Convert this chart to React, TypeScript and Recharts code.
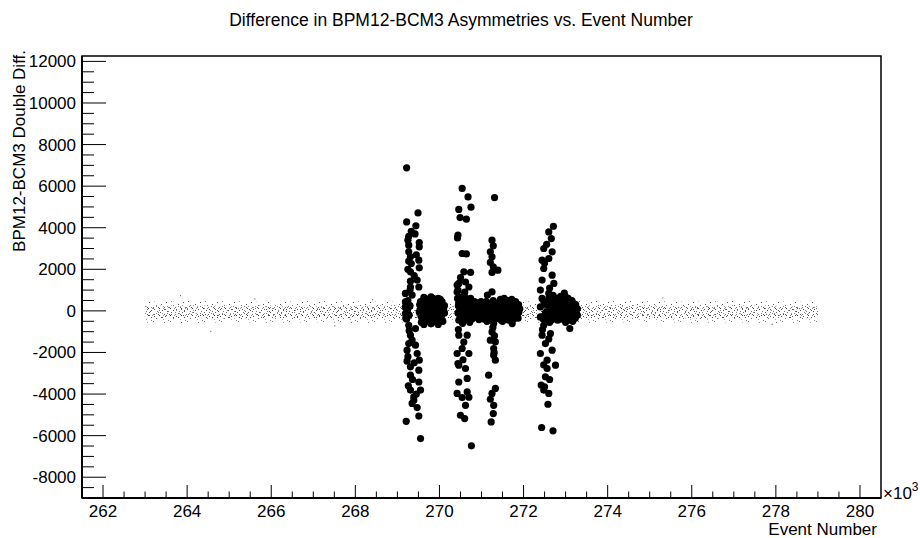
import React from 'react';
import { ComposedChart, Area, Scatter, XAxis, YAxis, ReferenceArea } from 'recharts';

const FONT = '"Liberation Sans", Arial, Helvetica, sans-serif';

// x in units of 10^3 events
const bandX = [263.0, 264, 265, 266, 267, 268, 269, 270, 271, 272, 273, 274, 275, 276, 277, 278, 279.0];
const bandHi = [440, 480, 460, 430, 470, 450, 440, 460, 430, 450, 470, 490, 460, 440, 480, 450, 430];
const bandLo = [-560, -590, -540, -570, -550, -580, -560, -540, -570, -550, -580, -560, -540, -570, -550, -580, -560];
const coreHi = [240, 270, 230, 260, 220, 250, 270, 230, 260, 250, 230, 280, 260, 230, 260, 250, 230];
const coreLo = [-350, -340, -370, -330, -360, -340, -350, -370, -340, -350, -330, -360, -340, -370, -350, -330, -350];

// few stray small markers outside the band
const strays = [[263.83, 755], [264.55, -960], [265.6, 600], [267.5, -700], [275.3, 650], [277.9, -620], [268.4, 560]];

// big markers, one list per run
const run1 = [
  [269.22, 6880], [269.49, 4710], [269.22, 4280], [269.44, 4090], [269.33, 3830], [269.27, 3590], [269.42, 3700],
  [269.52, 3290], [269.27, 3160], [269.52, 3080], [269.25, 3400], [269.27, 2840], [269.45, 2700], [269.31, 2600],
  [269.51, 2440], [269.27, 2390], [269.33, 2280], [269.52, 2070], [269.25, 2000], [269.31, 1880], [269.4, 1700],
  [269.47, 1480], [269.31, 1430], [269.51, 1150], [269.31, 1150], [269.3, 1000], [269.19, 840], [269.35, 760],
  [269.25, 500], [269.19, 430], [269.3, 250], [269.19, 190], [269.25, 100], [269.22, -20], [269.28, -200],
  [269.19, -130], [269.22, -300], [269.2, -350], [269.22, -400], [269.27, -690], [269.43, -850], [269.28, -950],
  [269.31, -1170], [269.35, -1400], [269.27, -1570], [269.43, -1650], [269.23, -1890], [269.47, -2050],
  [269.25, -2200], [269.52, -2370], [269.23, -2420], [269.4, -2500], [269.31, -2690], [269.51, -2850],
  [269.31, -3090], [269.36, -3300], [269.51, -3420], [269.26, -3600], [269.31, -3810], [269.55, -3810],
  [269.45, -4000], [269.39, -4140], [269.39, -4300], [269.35, -4450], [269.47, -4650], [269.51, -5060],
  [269.21, -5310], [269.55, -6140],
];
const blob1 = [
  [269.55, 450], [269.55, 100], [269.56, -250], [269.57, -550], [269.52, -50], [269.53, 300],
  [269.59, 280], [269.6, -100], [269.6, -420],
  [269.63, 650], [269.64, 300], [269.62, -50], [269.65, -400], [269.63, -650],
  [269.68, 420], [269.67, 50], [269.68, -300],
  [269.72, 550], [269.71, 200], [269.73, -150], [269.7, -500],
  [269.76, 480], [269.76, 100], [269.77, -330],
  [269.8, 680], [269.81, 350], [269.79, 0], [269.82, -300], [269.8, -620],
  [269.85, 600], [269.85, 200], [269.86, -150], [269.85, -450],
  [269.89, 500], [269.88, 150], [269.9, -200], [269.89, -520],
  [269.93, 380], [269.94, 0], [269.93, -350],
  [269.97, 600], [269.98, 280], [269.96, -80], [269.99, -420], [269.97, -650],
  [270.02, 550], [270.02, 200], [270.01, -150], [270.03, -450],
  [270.06, 450], [270.07, 100], [270.05, -250], [270.08, -500],
  [270.12, 250], [270.12, -100], [270.1, 50],
];
const run2 = [
  [270.54, 5890], [270.68, 5480], [270.75, 4990], [270.46, 4880], [270.49, 4490], [270.64, 4410], [270.44, 3640],
  [270.43, 3510], [270.54, 2760], [270.64, 2740], [270.58, 1880], [270.74, 1850], [270.5, 1600], [270.46, 1320],
  [270.62, 1390], [270.42, 1240], [270.7, 1150], [270.44, 1000], [270.42, 910], [270.6, 900], [270.54, 670],
  [270.74, 600], [270.46, 360], [270.45, -900], [270.46, -1170], [270.66, -1170], [270.58, -1500],
  [270.54, -1810], [270.42, -2050], [270.7, -2050], [270.56, -2350], [270.44, -2530], [270.46, -2610],
  [270.62, -2770], [270.66, -3250], [270.46, -3420], [270.66, -3900], [270.42, -3970], [270.7, -4150],
  [270.54, -4170], [270.62, -4540], [270.5, -5020], [270.6, -5180], [270.76, -6490],
];
const blob2 = [
  [270.43, 600], [270.45, 250], [270.44, -100], [270.46, -450],
  [270.48, 400], [270.48, 0], [270.49, -300],
  [270.52, 450], [270.53, 100], [270.51, -250], [270.55, -600],
  [270.57, 550], [270.57, 200], [270.56, -150], [270.58, -450],
  [270.61, 650], [270.62, 300], [270.6, -50], [270.63, -400],
  [270.66, 450], [270.66, 100], [270.67, -300],
  [270.7, 500], [270.71, 150], [270.69, -200], [270.72, -550],
  [270.75, 350], [270.75, 0], [270.76, -350],
  [270.79, 300], [270.8, -50], [270.78, -380],
  [270.83, 450], [270.84, 150], [270.83, -200],
  [270.87, 400], [270.88, 50], [270.86, -300],
  [270.91, 350], [270.92, -50], [270.9, -300],
  [270.95, 250], [270.96, -100], [270.94, -420],
  [270.99, 450], [271.0, 150], [270.99, -200],
  [271.03, 350], [271.04, 0], [271.02, -300],
  [271.07, 250], [271.07, -100], [271.06, -400],
  [271.11, 450], [271.12, 100], [271.1, -250], [271.13, -500],
  [271.16, 350], [271.16, 0], [271.15, -300],
  [271.2, 300], [271.21, -50], [271.19, -400],
  [271.24, 400], [271.24, 50], [271.25, -300],
  [271.28, 500], [271.29, 150], [271.27, -200], [271.3, -450],
  [271.33, 300], [271.33, -100], [271.32, -400],
  [271.37, 350], [271.38, 0], [271.36, -350],
];
const run3 = [
  [271.31, 5450], [271.25, 3400], [271.28, 3130], [271.21, 2840], [271.25, 2600], [271.21, 2330], [271.28, 2120],
  [271.39, 1960], [271.25, 1850], [271.25, 910], [271.14, 760], [271.29, -610], [271.27, -800], [271.25, -1010],
  [271.31, -1200], [271.21, -1410], [271.33, -1490], [271.29, -1810], [271.3, -2000], [271.29, -2130],
  [271.33, -2370], [271.17, -3090], [271.33, -3730], [271.25, -3970], [271.21, -4250], [271.29, -4540],
  [271.28, -4940], [271.23, -5340],
];
const blob3 = [
  [271.41, 350], [271.41, 0], [271.42, -300],
  [271.45, 550], [271.46, 200], [271.44, -150], [271.47, -450],
  [271.5, 400], [271.5, 50], [271.49, -250], [271.5, -500],
  [271.54, 600], [271.55, 250], [271.53, -100], [271.56, -400],
  [271.59, 350], [271.59, 0], [271.6, -300],
  [271.63, 500], [271.64, 150], [271.62, -200], [271.65, -450],
  [271.68, 350], [271.68, 0], [271.67, -350],
  [271.72, 550], [271.73, 200], [271.71, -150], [271.73, -610],
  [271.77, 300], [271.77, -50], [271.76, -400],
  [271.81, 450], [271.82, 100], [271.8, -250],
  [271.85, 250], [271.85, -150],
  [271.88, 300], [271.89, -50], [271.87, -350], [271.91, 100],
];
const run4 = [
  [272.71, 4070], [272.6, 3800], [272.66, 3480], [272.55, 3200], [272.48, 3000], [272.68, 2840], [272.44, 2440],
  [272.6, 2520], [272.5, 2300], [272.48, 2040], [272.68, 1720], [272.44, 1480], [272.72, 1320], [272.62, 1100],
  [272.4, 1000], [272.6, 840], [272.44, 600], [272.4, 190], [272.4, -290], [272.48, -690], [272.45, -900],
  [272.44, -1170], [272.64, -1090], [272.6, -1350], [272.52, -1570], [272.68, -1890], [272.4, -2050],
  [272.56, -2370], [272.48, -2600], [272.76, -2610], [272.56, -2770], [272.52, -3170], [272.62, -3300],
  [272.42, -3570], [272.5, -3650], [272.48, -3810], [272.6, -3970], [272.58, -4490], [272.43, -5610],
  [272.7, -5770],
];
const blob4 = [
  [272.5, 400], [272.52, -100], [272.47, -400],
  [272.55, 300], [272.55, -50], [272.56, -400],
  [272.6, 600], [272.61, 200], [272.59, -250], [272.62, -550],
  [272.65, 450], [272.65, 100], [272.64, -150], [272.66, -450],
  [272.7, 750], [272.71, 350], [272.69, 0], [272.72, -350],
  [272.74, 550], [272.75, 150], [272.74, -200],
  [272.79, 600], [272.8, 250], [272.78, -100], [272.81, -450],
  [272.83, 450], [272.84, 50], [272.83, -300],
  [272.88, 700], [272.89, 300], [272.87, -50], [272.9, -400],
  [272.92, 500], [272.93, 150], [272.92, -200],
  [272.97, 850], [272.98, 450], [272.96, 100], [272.99, -250], [273.0, -550],
  [273.01, 650], [273.02, 300], [273.01, -100], [273.02, -400],
  [273.06, 600], [273.07, 250], [273.05, -100], [273.08, -450],
  [273.1, 450], [273.11, 100], [273.1, -250],
  [273.15, 500], [273.16, 150], [273.14, -200], [273.17, -500],
  [273.19, 350], [273.2, 0], [273.19, -350],
  [273.24, 300], [273.25, -50], [273.23, -350],
  [273.28, 100], [273.28, -200],
  [273.1, -850],
];

const xMajor = [262, 264, 266, 268, 270, 272, 274, 276, 278, 280];
const yMajor = [-8000, -6000, -4000, -2000, 0, 2000, 4000, 6000, 8000, 10000, 12000];

const xTicks: number[] = [];
for (let v = 262; v <= 280; v += 0.5) xTicks.push(v);
const yTicks: number[] = [];
for (let v = -9000; v <= 12000; v += 500) yTicks.push(v);

const bandData = bandX.map((x, i) => ({ x, band: [bandLo[i], bandHi[i]], core: [coreLo[i], coreHi[i]] }));
const toPts = (a: number[][]) => a.map(([x, y]) => ({ x, y }));
const bigPts = toPts([...run1, ...blob1, ...run2, ...blob2, ...run3, ...blob3, ...run4, ...blob4]);
const strayPts = toPts(strays);

// texture of the small-marker band
const outerDots = [
  [1, 2, '#666'], [5, 0, '#888'], [8, 5, '#555'], [3, 6, '#777'], [9, 1, '#999'], [13, 3, '#555'],
  [15, 8, '#888'], [11, 10, '#666'], [6, 11, '#999'], [0, 9, '#777'], [14, 12, '#555'], [10, 7, '#aaa'],
];
const coreDots = [
  [0, 1, '#555'], [3, 3, '#777'], [5, 0, '#444'], [2, 5, '#888'], [6, 4, '#666'],
  [8, 2, '#555'], [10, 6, '#777'], [9, 0, '#999'], [4, 6, '#666'],
];

const XTick = (props: any) => {
  const { x, y, payload } = props;
  const v = payload.value;
  const major = xMajor.includes(v);
  return (
    <g>
      <line x1={x} x2={x} y1={y} y2={y - (major ? 13 : 6.5)} stroke="#000" strokeWidth={1} />
      {major && (
        <text x={x} y={y + 19} textAnchor="middle" fontSize={17} fontFamily={FONT} fill="#000">
          {v}
        </text>
      )}
    </g>
  );
};

const YTick = (props: any) => {
  const { x, y, payload } = props;
  const v = payload.value;
  const major = yMajor.includes(v);
  return (
    <g>
      <line x1={x} x2={x + (major ? 24 : 12)} y1={y} y2={y} stroke="#000" strokeWidth={1} />
      {major && (
        <text x={x - 6} y={y + 6} textAnchor="end" fontSize={17} fontFamily={FONT} fill="#000">
          {v}
        </text>
      )}
    </g>
  );
};

const BigDot = (p: any) => <circle cx={p.cx} cy={p.cy} r={3.6} fill="#000" />;
const TinyDot = (p: any) => <rect x={p.cx} y={p.cy} width={1} height={1} fill="#444" />;

export default function App() {
  return (
    <div style={{ position: 'absolute', left: 0, top: 0, width: 920, height: 538, background: '#fff' }}>
      <svg width={0} height={0} style={{ position: 'absolute' }}>
        <defs>
          <pattern id="noiseOuter" width={17} height={13} patternUnits="userSpaceOnUse">
            {outerDots.map(([x, y, c], i) => (
              <rect key={i} x={x} y={y} width={1} height={1} fill={c as string} />
            ))}
          </pattern>
          <pattern id="noiseCore" width={11} height={7} patternUnits="userSpaceOnUse">
            {coreDots.map(([x, y, c], i) => (
              <rect key={i} x={x} y={y} width={1} height={1} fill={c as string} />
            ))}
          </pattern>
        </defs>
      </svg>
      <ComposedChart
        width={920}
        height={538}
        data={bandData}
        margin={{ top: 56, right: 39, bottom: 0, left: 0 }}
      >
        <XAxis
          type="number"
          dataKey="x"
          domain={[261.5, 280.5]}
          allowDataOverflow
          ticks={xTicks}
          interval={0}
          tickSize={0}
          tickMargin={0}
          tickLine={false}
          tick={<XTick />}
          height={40}
          axisLine={{ stroke: '#000', strokeWidth: 2 }}
        />
        <YAxis
          type="number"
          dataKey="y"
          domain={[-9000, 12260]}
          allowDataOverflow
          ticks={yTicks}
          interval={0}
          tickSize={0}
          tickMargin={0}
          tickLine={false}
          tick={<YTick />}
          width={82}
          axisLine={{ stroke: '#000', strokeWidth: 2 }}
        />
        <ReferenceArea x1={261.5} x2={280.5} y1={-9000} y2={12260} fill="none" stroke="#000" strokeWidth={1.5} />
        <Area type="linear" dataKey="band" stroke="none" fill="url(#noiseOuter)" fillOpacity={1} dot={false} activeDot={false} isAnimationActive={false} />
        <Area type="linear" dataKey="core" stroke="none" fill="url(#noiseCore)" fillOpacity={1} dot={false} activeDot={false} isAnimationActive={false} />
        <Scatter data={strayPts} shape={TinyDot} isAnimationActive={false} />
        <Scatter data={bigPts} shape={BigDot} isAnimationActive={false} />
      </ComposedChart>
      <svg width={920} height={538} style={{ position: 'absolute', left: 0, top: 0, pointerEvents: 'none' }}>
        <text x={461} y={26} textAnchor="middle" fontSize={17.5} fontFamily={FONT} fill="#000">
          Difference in BPM12-BCM3 Asymmetries vs. Event Number
        </text>
        <text transform="translate(25,50) rotate(-90)" textAnchor="end" fontSize={17} fontFamily={FONT} fill="#000">
          BPM12-BCM3 Double Diff.
        </text>
        <text x={877} y={535} textAnchor="end" fontSize={17} fontFamily={FONT} fill="#000">
          Event Number
        </text>
        <text x={883} y={499} fontSize={17} fontFamily={FONT} fill="#000">
          ×10<tspan dy={-8} fontSize={12}>3</tspan>
        </text>
      </svg>
    </div>
  );
}
